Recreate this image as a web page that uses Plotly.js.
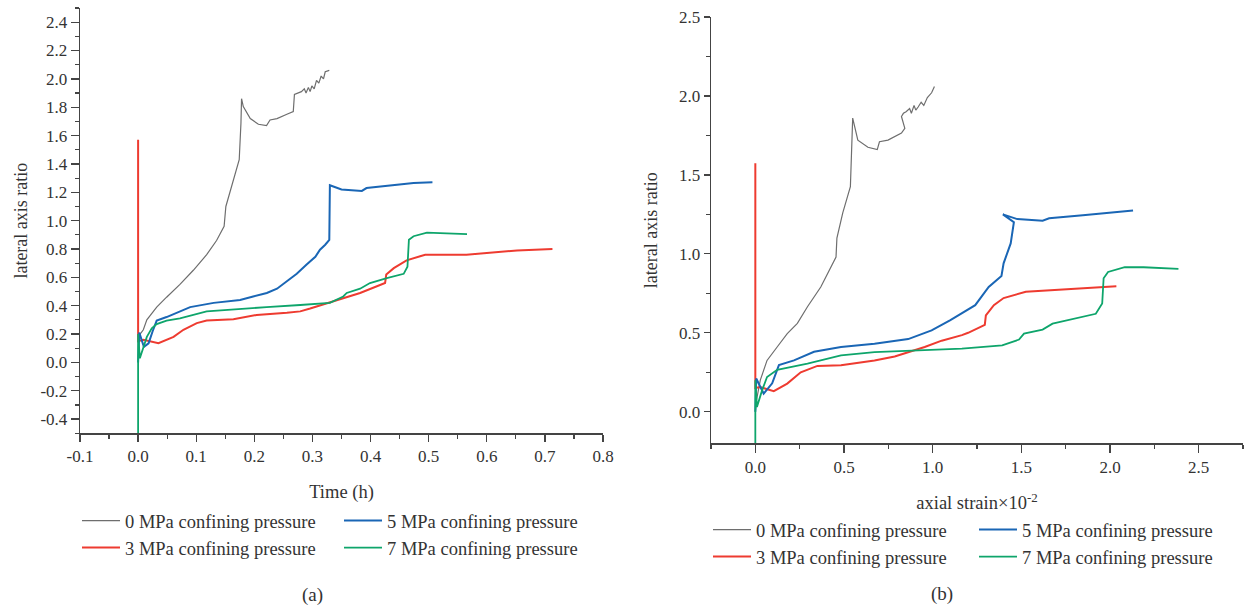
<!DOCTYPE html>
<html>
<head>
<meta charset="utf-8">
<script src="https://cdn.plot.ly/plotly-3.0.1.min.js"></script>
<style>html,body{margin:0;padding:0;background:#fff}#chart{width:1248px;height:612px}</style>
</head>
<body>
<div id="chart"></div>
<script>
// ---------- data: panel (a) lateral axis ratio vs time (h) ----------
const seriesNames = ["0 MPa confining pressure", "3 MPa confining pressure", "5 MPa confining pressure", "7 MPa confining pressure"];

const timeP0 = [0, 0.009, 0.015, 0.032, 0.049, 0.072, 0.095, 0.118, 0.135, 0.148, 0.151, 0.164, 0.174, 0.177, 0.178, 0.181, 0.193, 0.207, 0.221, 0.227, 0.239, 0.256, 0.267, 0.269, 0.281, 0.286, 0.289, 0.293, 0.296, 0.299, 0.303, 0.307, 0.311, 0.315, 0.319, 0.322, 0.329];
const ratioTP0 = [0.18, 0.23, 0.30, 0.39, 0.46, 0.55, 0.65, 0.76, 0.86, 0.96, 1.10, 1.29, 1.43, 1.69, 1.86, 1.805, 1.72, 1.68, 1.67, 1.71, 1.72, 1.75, 1.77, 1.89, 1.91, 1.93, 1.90, 1.94, 1.91, 1.95, 1.93, 1.99, 1.97, 2.02, 2.00, 2.05, 2.06];

const timeP3 = [0, 0, 0.009, 0.035, 0.061, 0.078, 0.101, 0.118, 0.164, 0.204, 0.256, 0.279, 0.296, 0.336, 0.382, 0.425, 0.427, 0.44, 0.462, 0.494, 0.565, 0.652, 0.713];
const ratioTP3 = [1.57, 0.15, 0.16, 0.135, 0.18, 0.23, 0.277, 0.295, 0.305, 0.335, 0.35, 0.36, 0.38, 0.43, 0.49, 0.56, 0.62, 0.665, 0.72, 0.76, 0.76, 0.79, 0.80];

const timeP5 = [0, 0.002, 0.010, 0.018, 0.025, 0.032, 0.049, 0.072, 0.0895, 0.13, 0.1755, 0.198, 0.2215, 0.239, 0.256, 0.273, 0.29, 0.305, 0.313, 0.322, 0.329, 0.330, 0.35, 0.385, 0.393, 0.428, 0.474, 0.5065];
const ratioTP5 = [0.0, 0.21, 0.11, 0.135, 0.22, 0.295, 0.32, 0.36, 0.39, 0.42, 0.44, 0.465, 0.49, 0.52, 0.57, 0.625, 0.69, 0.745, 0.795, 0.83, 0.865, 1.25, 1.22, 1.21, 1.23, 1.245, 1.265, 1.27];

const timeP7 = [0, 0, 0.003, 0.009, 0.015, 0.0235, 0.032, 0.049, 0.072, 0.118, 0.164, 0.221, 0.279, 0.33, 0.353, 0.359, 0.382, 0.399, 0.428, 0.457, 0.4635, 0.466, 0.474, 0.497, 0.531, 0.566];
const ratioTP7 = [-0.5, 0.2, 0.03, 0.11, 0.18, 0.24, 0.27, 0.295, 0.31, 0.36, 0.375, 0.39, 0.405, 0.42, 0.465, 0.49, 0.52, 0.56, 0.595, 0.625, 0.675, 0.865, 0.89, 0.915, 0.91, 0.905];

// ---------- data: panel (b) lateral axis ratio vs axial strain (x10^-2) ----------
const strainP0 = [0, 0.006, 0.028, 0.066, 0.123, 0.18, 0.237, 0.294, 0.369, 0.42, 0.455, 0.46, 0.493, 0.536, 0.544, 0.549, 0.578, 0.635, 0.6875, 0.70, 0.748, 0.786, 0.824, 0.843, 0.824, 0.835, 0.85, 0.87, 0.88, 0.895, 0.905, 0.918, 0.935, 0.95, 0.97, 0.994, 1.01];
const ratioSP0 = [0.0, 0.07, 0.2, 0.325, 0.41, 0.495, 0.56, 0.665, 0.79, 0.90, 0.98, 1.10, 1.26, 1.425, 1.70, 1.86, 1.72, 1.675, 1.66, 1.71, 1.72, 1.74, 1.765, 1.795, 1.87, 1.89, 1.90, 1.92, 1.89, 1.94, 1.91, 1.93, 1.96, 1.94, 1.99, 2.02, 2.06];

const strainP3 = [0, 0, 0.028, 0.104, 0.18, 0.256, 0.35, 0.483, 0.672, 0.786, 0.955, 1.051, 1.165, 1.20, 1.294, 1.30, 1.345, 1.40, 1.525, 1.81, 2.036];
const ratioSP3 = [1.574, 0.15, 0.156, 0.13, 0.178, 0.25, 0.29, 0.295, 0.325, 0.35, 0.41, 0.45, 0.485, 0.50, 0.55, 0.61, 0.675, 0.72, 0.76, 0.78, 0.795];

const strainP5 = [0, 0.005, 0.047, 0.095, 0.133, 0.218, 0.331, 0.483, 0.672, 0.862, 0.994, 1.10, 1.24, 1.316, 1.388, 1.40, 1.44, 1.458, 1.396, 1.477, 1.62, 1.657, 1.847, 1.998, 2.13];
const ratioSP5 = [0.0, 0.21, 0.115, 0.18, 0.295, 0.325, 0.38, 0.41, 0.43, 0.46, 0.515, 0.58, 0.675, 0.79, 0.86, 0.94, 1.066, 1.20, 1.25, 1.22, 1.21, 1.225, 1.245, 1.26, 1.275];

const strainP7 = [0, 0, 0.009, 0.038, 0.066, 0.123, 0.294, 0.483, 0.672, 0.955, 1.165, 1.392, 1.487, 1.515, 1.62, 1.676, 1.81, 1.92, 1.956, 1.964, 1.989, 2.083, 2.19, 2.386];
const ratioSP7 = [-0.2, 0.2, 0.03, 0.135, 0.22, 0.265, 0.305, 0.357, 0.378, 0.39, 0.40, 0.42, 0.457, 0.495, 0.52, 0.558, 0.59, 0.62, 0.685, 0.845, 0.885, 0.915, 0.915, 0.905];

// ---------- tick labels ----------
const aXTickVals = [-0.1, 0, 0.1, 0.2, 0.3, 0.4, 0.5, 0.6, 0.7, 0.8];
const aXTickText = ["-0.1", "0.0", "0.1", "0.2", "0.3", "0.4", "0.5", "0.6", "0.7", "0.8"];
const aYTickVals = [-0.4, -0.2, 0, 0.2, 0.4, 0.6, 0.8, 1.0, 1.2, 1.4, 1.6, 1.8, 2.0, 2.2, 2.4];
const aYTickText = ["-0.4", "-0.2", "0.0", "0.2", "0.4", "0.6", "0.8", "1.0", "1.2", "1.4", "1.6", "1.8", "2.0", "2.2", "2.4"];
const bXTickVals = [0, 0.5, 1.0, 1.5, 2.0, 2.5];
const bXTickText = ["0.0", "0.5", "1.0", "1.5", "2.0", "2.5"];
const bYTickVals = [0, 0.5, 1.0, 1.5, 2.0, 2.5];
const bYTickText = ["0.0", "0.5", "1.0", "1.5", "2.0", "2.5"];

const colors = ["#6e6e6e", "#ee3b30", "#1a66b5", "#0ea56b"];
const widths = [1.2, 2, 2, 1.8];

const FONT = '"Liberation Serif", "Times New Roman", serif';
const TXT = "#333333";

const aX = [timeP0, timeP3, timeP5, timeP7];
const aY = [ratioTP0, ratioTP3, ratioTP5, ratioTP7];
const bX = [strainP0, strainP3, strainP5, strainP7];
const bY = [ratioSP0, ratioSP3, ratioSP5, ratioSP7];
const aLegend = ["legend", "legend", "legend2", "legend2"];
const bLegend = ["legend3", "legend3", "legend4", "legend4"];

const traces = [];
for (let i = 0; i < 4; i++) {
  traces.push({x: aX[i], y: aY[i], type: "scatter", mode: "lines", name: seriesNames[i],
    line: {color: colors[i], width: widths[i]}, xaxis: "x", yaxis: "y", legend: aLegend[i]});
}
for (let i = 0; i < 4; i++) {
  traces.push({x: bX[i], y: bY[i], type: "scatter", mode: "lines", name: seriesNames[i],
    line: {color: colors[i], width: widths[i]}, xaxis: "x2", yaxis: "y2", legend: bLegend[i]});
}

const W = 1248, H = 612;
const px = v => v / W, py = v => 1 - v / H;

function axisBase() {
  return {
    showgrid: false, zeroline: false, showline: true, linecolor: "#444", linewidth: 1.3,
    ticks: "outside", ticklen: 8, tickwidth: 1.3, tickcolor: "#444",
    tickfont: {family: FONT, size: 17, color: TXT}, tickmode: "array", fixedrange: true
  };
}

const legendBase = {
  font: {family: FONT, size: 18.5, color: TXT}, bgcolor: "rgba(0,0,0,0)",
  orientation: "v", xanchor: "left", yanchor: "top", tracegroupgap: 0, itemwidth: 38
};

const layout = {
  width: W, height: H,
  margin: {l: 0, r: 0, t: 0, b: 0},
  paper_bgcolor: "#fff", plot_bgcolor: "#fff",
  font: {family: FONT, color: TXT},
  xaxis: Object.assign(axisBase(), {
    domain: [px(80), px(603)], range: [-0.1, 0.8], anchor: "y",
    tickvals: aXTickVals, ticktext: aXTickText, ticklen: 7,
    minor: {tickmode: "linear", tick0: 0, dtick: 0.05, ticklen: 4, tickcolor: "#444", tickwidth: 1.2, ticks: "outside"},
    title: {text: "Time (h)", font: {family: FONT, size: 18.5, color: TXT}, standoff: 20}
  }),
  yaxis: Object.assign(axisBase(), {
    domain: [py(433.3), py(8)], range: [-0.5, 2.5], anchor: "x",
    tickvals: aYTickVals, ticktext: aYTickText,
    minor: {tickmode: "linear", tick0: 0, dtick: 0.1, ticklen: 4, tickcolor: "#444", tickwidth: 1.2, ticks: "outside"},
    title: {text: "lateral axis ratio", font: {family: FONT, size: 18, color: TXT}, standoff: 8}
  }),
  xaxis2: Object.assign(axisBase(), {
    domain: [px(711), px(1243)], range: [-0.25, 2.75], anchor: "y2",
    tickvals: bXTickVals, ticktext: bXTickText,
    minor: {tickmode: "linear", tick0: 0, dtick: 0.25, ticklen: 4, tickcolor: "#444", tickwidth: 1.2, ticks: "outside"},
    title: {text: "axial strain×10<sup>-2</sup>", font: {family: FONT, size: 18.5, color: TXT}, standoff: 20}
  }),
  yaxis2: Object.assign(axisBase(), {
    domain: [py(443.3), py(17)], range: [-0.2, 2.5], anchor: "x2", ticklen: 6,
    tickvals: bYTickVals, ticktext: bYTickText,
    minor: {tickmode: "linear", tick0: 0, dtick: 0.25, ticklen: 4, tickcolor: "#444", tickwidth: 1.2, ticks: "outside"},
    title: {text: "lateral axis ratio", font: {family: FONT, size: 18, color: TXT}, standoff: 16}
  }),
  legend: Object.assign({}, legendBase, {x: px(77), y: py(502)}),
  legend2: Object.assign({}, legendBase, {x: px(339), y: py(502)}),
  legend3: Object.assign({}, legendBase, {x: px(708), y: py(511)}),
  legend4: Object.assign({}, legendBase, {x: px(974), y: py(511)}),
  annotations: [
    {text: "(a)", x: px(312), y: py(595), xref: "paper", yref: "paper", showarrow: false,
     font: {family: FONT, size: 19, color: TXT}, xanchor: "center", yanchor: "middle"},
    {text: "(b)", x: px(942), y: py(594), xref: "paper", yref: "paper", showarrow: false,
     font: {family: FONT, size: 19, color: TXT}, xanchor: "center", yanchor: "middle"}
  ]
};

Plotly.newPlot("chart", traces, layout, {displayModeBar: false, staticPlot: true});
</script>
</body>
</html>
